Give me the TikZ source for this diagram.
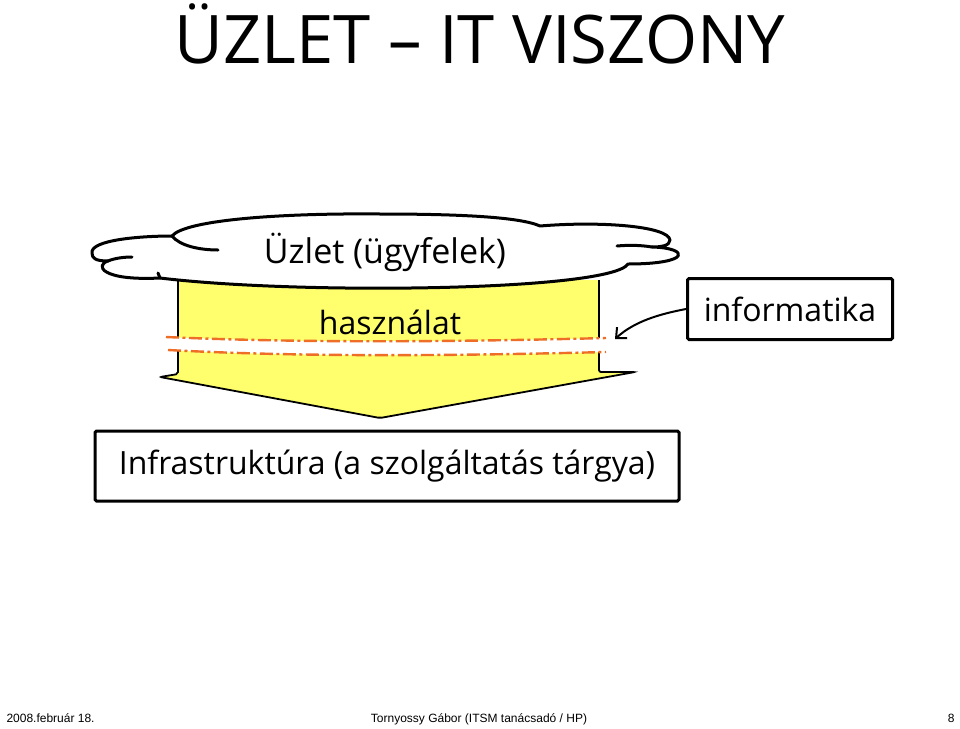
\documentclass[tikz,border=0pt]{standalone}
\usepackage{fontspec}
\setmainfont{Open Sans}
\newfontfamily\footfont{Liberation Sans}
\usetikzlibrary{positioning,arrows.meta}
\definecolor{arrowyellow}{RGB}{255,255,110}
\definecolor{cutorange}{RGB}{238,110,40}

\begin{document}
\begin{tikzpicture}[x=1pt,y=-1pt,
    hand/.style={font=\fontsize{32}{36}\selectfont},
    handbox/.style={hand,draw,line width=3pt,inner sep=0pt,rounded corners=1.5pt},
    cutline/.style={cutorange,line width=2.4pt,dash pattern=on 13pt off 3.5pt on 3pt off 3.5pt},
    footer/.style={font=\footfont\fontsize{12}{14}\selectfont}]
    % --- page frame ---
    \useasboundingbox (0,0) rectangle (960,728);

    % --- title ---
    \node[font=\fontsize{67}{72}\selectfont,anchor=base] (title) at (480,63) {ÜZLET – IT VISZONY};

    % --- yellow arrow (body + head) ---
    \filldraw[fill=arrowyellow,line width=1.8pt,rounded corners=2pt]
        (178,280) -- (178,374) -- (160,377) -- (380,418) -- (635,372) -- (599,372) -- (599,280);

    % --- cut in the arrow: white stripe between two dash-dot lines ---
    \fill[white] (166,337) .. controls (300,343) and (450,342) .. (606,338)
        -- (606,352) .. controls (450,356) and (300,357) .. (168,350) -- cycle;
    \draw[cutline] (166,337) .. controls (300,343) and (450,342) .. (606,338);
    \draw[cutline] (168,350) .. controls (300,357) and (450,356) .. (606,352);
    \coordinate (cut) at (615,339);

    % --- cloud (business) ---
    \filldraw[fill=white,line width=3pt,line join=round]
        (92,253) .. controls (90,240) and (140,236) .. (172,236)
        .. controls (185,220) and (280,213) .. (380,214)
        .. controls (460,214) and (520,217) .. (540,226)
        .. controls (600,221) and (668,226) .. (670,240)
        .. controls (670,246) and (660,247) .. (652,247)
        .. controls (690,248) and (692,264) .. (628,264)
        .. controls (610,291) and (300,295) .. (160,278)
        .. controls (100,281) and (95,265) .. (108,261)
        .. controls (95,261) and (92,258) .. (92,253) -- cycle;
    % inner curls of the cloud
    \draw[line width=3pt,line cap=round]
        (172,236) .. controls (180,246) and (200,250) .. (218,250)
        (108,261) .. controls (115,258) and (125,257) .. (132,257)
        (652,247) .. controls (640,245) and (628,245) .. (617,246)
        (160,278) -- (158,273);

    % --- labels ---
    \node[hand,font=\fontsize{34}{38}\selectfont] (uzlet) at (385,252) {Üzlet (ügyfelek)};
    \node[hand] (hasznalat) at (390,322) {használat};
    \node[handbox,minimum width=205pt,minimum height=61pt] (info) at (790,309) {informatika};
    \node[handbox,minimum width=584pt,minimum height=70pt] (infra) at (387,466)
        {Infrastruktúra (a szolgáltatás tárgya)};

    % --- pointer from IT to the cut ---
    \draw[line width=2pt,-{Straight Barb[length=8pt,width=15pt]}]
        (info.west) .. controls (660,314) and (635,321) .. (cut);

    % --- footer ---
    \node[footer,anchor=base west] (date) at (3,722) {2008.február 18.};
    \node[footer,anchor=base] (author) at (479,722) {Tornyossy Gábor (ITSM tanácsadó / HP)};
    \node[footer,anchor=base east] (page) at (958,722) {8};
\end{tikzpicture}
\end{document}
